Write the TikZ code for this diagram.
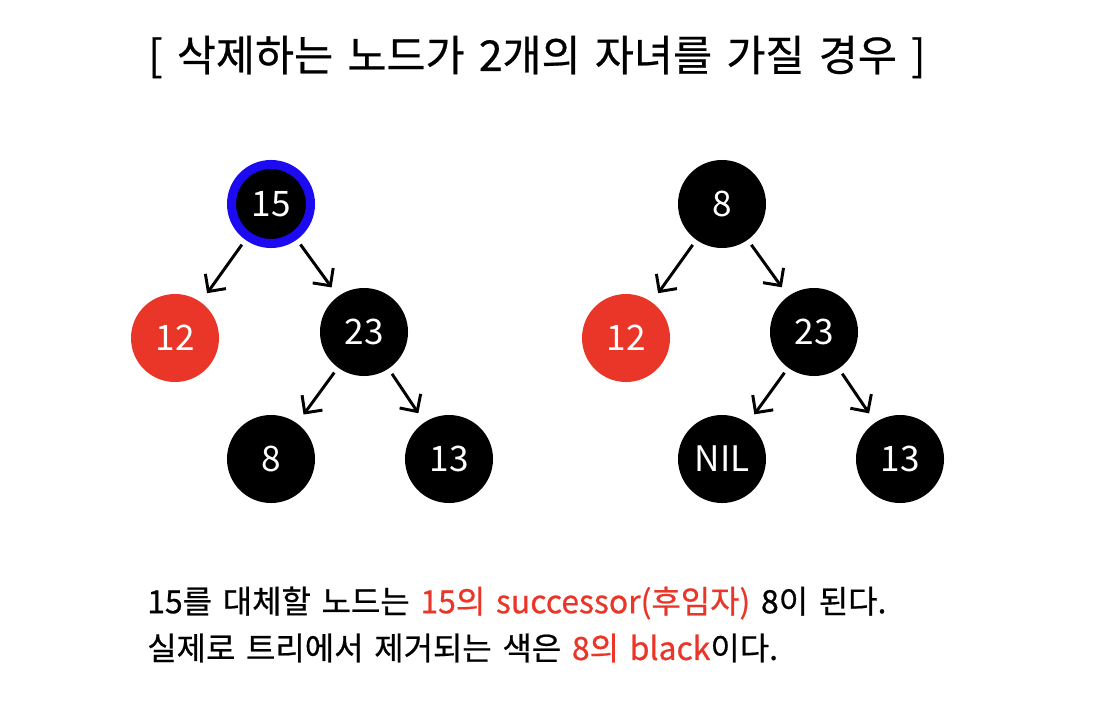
\documentclass[tikz,border=0pt]{standalone}
\usepackage{fontspec}
\setmainfont{Noto Sans CJK KR}
\newfontfamily\medfont{Noto Sans CJK KR}[FakeBold=0.6, WordSpace=1.5]
\usetikzlibrary{arrows.meta}
\definecolor{rbred}{RGB}{234,54,40}
\definecolor{ringblue}{RGB}{28,10,240}

\begin{document}
\begin{tikzpicture}[
  x=0.025cm, y=-0.025cm,
  rbnode/.style={circle, inner sep=0pt, minimum size=2.2cm, text=white,
                 font=\fontsize{25}{30}\selectfont},
  blacknode/.style={rbnode, fill=black},
  rednode/.style={rbnode, fill=rbred},
  deleted/.style={blacknode, draw=ringblue, line width=6.4pt,
                  minimum size=1.975cm},
  link/.style={-{Straight Barb[length=9pt,width=18pt]}, line width=2.1pt,
               shorten <=0.15cm, shorten >=0.27cm},
  caption/.style={anchor=west, inner sep=0pt,
                  font=\medfont\fontsize{22.7}{27}\selectfont}
]
\useasboundingbox (0,0) rectangle (1096,708);

\node[anchor=west, inner sep=0pt, font=\medfont\fontsize{30.2}{36}\selectfont]
  (title) at (148,57) {[ 삭제하는 노드가 2개의 자녀를 가질 경우 ]};

% left tree: before deletion
\node[deleted] (l15) at (271,204) {15};
\node[rednode] (l12) at (175,338) {12};
\node[blacknode] (l23) at (364,332) {23};
\node[blacknode] (l8) at (271,459) {8};
\node[blacknode] (l13) at (449,459) {13};

% right tree: after replacement
\node[blacknode] (r8) at (722,204) {8};
\node[rednode] (r12) at (626,338) {12};
\node[blacknode] (r23) at (814,332) {23};
\node[blacknode] (rnil) at (722,459) {NIL};
\node[blacknode] (r13) at (900,459) {13};

\foreach \a/\b in {l15/l12, l15/l23, l23/l8, l23/l13,
                   r8/r12, r8/r23, r23/rnil, r23/r13}
  \draw[link] (\a) -- (\b);

% explanation
\node[caption] (note1) at (147,603)
  {15를 대체할 노드는 {\color{rbred}15의 successor(후임자)} 8이 된다.};
\node[caption] (note2) at (147,648)
  {실제로 트리에서 제거되는 색은 {\color{rbred}8의 black}이다.};
\end{tikzpicture}
\end{document}
